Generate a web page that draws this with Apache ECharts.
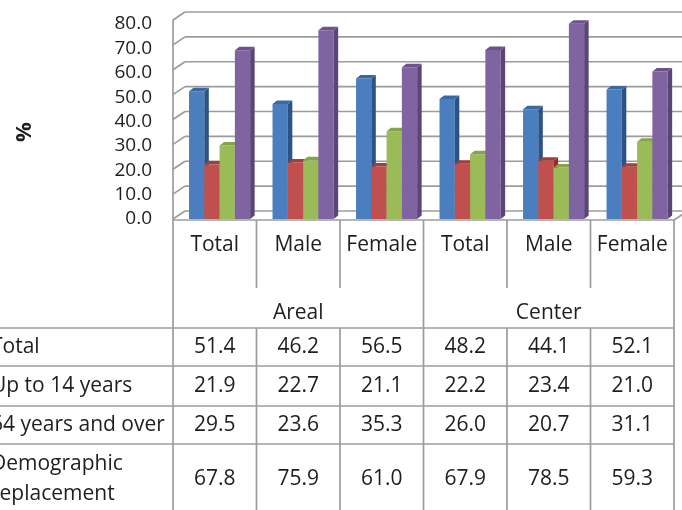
<!DOCTYPE html>
<html>
<head>
<meta charset="utf-8">
<script src="https://cdn.jsdelivr.net/npm/echarts@6/dist/echarts.min.js"></script>
<style>
  html, body { margin: 0; padding: 0; background: #fff; }
  #main { width: 682px; height: 510px; }
</style>
</head>
<body>
<div id="main"></div>
<script>
// data
const categories = ['Total', 'Male', 'Female', 'Total', 'Male', 'Female'];
const groups = ['Areal', 'Center'];
const seriesNames = ['Total', 'Up to 14 years', '64 years and over', 'Demographic\nreplacement'];
const totalVals = [51.4, 46.2, 56.5, 48.2, 44.1, 52.1];
const upTo14Vals = [21.9, 22.7, 21.1, 22.2, 23.4, 21.0];
const over64Vals = [29.5, 23.6, 35.3, 26.0, 20.7, 31.1];
const replacementVals = [67.8, 75.9, 61.0, 67.9, 78.5, 59.3];
const yTicks = [0, 10, 20, 30, 40, 50, 60, 70, 80];

const allVals = [totalVals, upTo14Vals, over64Vals, replacementVals];
// front / side / top colours
const colors = [
  ['#4a7ebf', '#2d5286', '#3a68a3'],
  ['#c0504d', '#8a2f2d', '#a23f3c'],
  ['#9bbb59', '#6f8a37', '#85a349'],
  ['#8064a2', '#5a4577', '#6c538c']
];

const FONT = '21px "Open Sans"';
const TXT = '#1e1e1e';
const LINE = '#9c9c9c';
const WALL_DX = 12, WALL_DY = -8;   // depth of the 3d box
const BAR_DX = 4.5, BAR_DY = -3.5;  // depth of a bar

const chart = echarts.init(document.getElementById('main'), null, { renderer: 'canvas' });

/**
 * walls, floor, gridlines
 */
function renderFrame(params, api) {
  const bw = api.size([1, 0])[0];
  const L = api.coord([0, 0])[0] - bw / 2;
  const R = api.coord([categories.length - 1, 0])[0] + bw / 2;
  const y0 = api.coord([0, 0])[1];
  const yTop = api.coord([0, yTicks[yTicks.length - 1]])[1];
  const st = { stroke: LINE, lineWidth: 1.7 };
  const kids = [];
  yTicks.forEach(v => {
    const y = api.coord([0, v])[1];
    kids.push({ type: 'line', shape: { x1: L + WALL_DX, y1: y + WALL_DY, x2: R + WALL_DX, y2: y + WALL_DY }, style: st });
    kids.push({ type: 'line', shape: { x1: L, y1: y, x2: L + WALL_DX, y2: y + WALL_DY }, style: st });
  });
  kids.push({ type: 'line', shape: { x1: L, y1: yTop, x2: L, y2: y0 + 1 }, style: st });
  kids.push({ type: 'line', shape: { x1: L, y1: y0 + 1, x2: R, y2: y0 + 1 }, style: st });
  kids.push({ type: 'line', shape: { x1: R, y1: y0 + 1, x2: R + WALL_DX, y2: y0 + 1 + WALL_DY }, style: st });
  return { type: 'group', children: kids };
}

/**
 * one 3d bar
 */
function makeBarRender(s) {
  return function (params, api) {
    const i = api.value(0);
    const v = api.value(1);
    const bw = api.size([1, 0])[0];
    const c = api.coord([i, v]);
    const yb = api.coord([i, 0])[1];
    const w = bw * 0.183;
    const x0 = c[0] - bw * 0.308 + s * w;
    const yt = c[1];
    const col = colors[s];
    return {
      type: 'group',
      children: [
        { type: 'rect', shape: { x: x0, y: yt, width: w, height: yb - yt }, style: { fill: col[0] } },
        { type: 'polygon', shape: { points: [[x0 + w, yt], [x0 + w + BAR_DX, yt + BAR_DY], [x0 + w + BAR_DX, yb + BAR_DY], [x0 + w, yb]] }, style: { fill: col[1] } },
        { type: 'polygon', shape: { points: [[x0, yt], [x0 + BAR_DX, yt + BAR_DY], [x0 + w + BAR_DX, yt + BAR_DY], [x0 + w, yt]] }, style: { fill: col[2] } }
      ]
    };
  };
}

/**
 * data table under the chart, one column per category
 */
function renderTable(params, api) {
  const i = api.value(0);
  const bw = api.size([1, 0])[0];
  const cx = api.coord([i, 0])[0];
  const y0 = api.coord([i, 0])[1] + 1;
  const left = cx - bw / 2;
  const right = cx + bw / 2;
  const headBottom = y0 + 68;   // end of short separators
  const groupBottom = y0 + 108; // line under group names
  const rowLines = [groupBottom, groupBottom + 38, groupBottom + 78, groupBottom + 116];
  const rowMid = [groupBottom + 19, groupBottom + 58, groupBottom + 97, groupBottom + 151];
  const bottom = 520;
  const st = { stroke: LINE, lineWidth: 1.7 };
  const kids = [];

  // vertical lines
  if (i % 3 === 0) {
    kids.push({ type: 'line', shape: { x1: left, y1: y0, x2: left, y2: bottom }, style: st });
  } else {
    kids.push({ type: 'line', shape: { x1: left, y1: y0, x2: left, y2: headBottom }, style: st });
    kids.push({ type: 'line', shape: { x1: left, y1: groupBottom, x2: left, y2: bottom }, style: st });
  }
  if (i === categories.length - 1) {
    kids.push({ type: 'line', shape: { x1: right, y1: y0, x2: right, y2: bottom }, style: st });
  }

  // category name
  kids.push({ type: 'text', style: { text: categories[i], x: cx, y: y0 + 25, font: FONT, fill: TXT, textAlign: 'center', textVerticalAlign: 'middle' } });

  // group name over the middle column
  if (i % 3 === 1) {
    kids.push({ type: 'text', style: { text: groups[Math.floor(i / 3)], x: cx, y: groupBottom - 15, font: FONT, fill: TXT, textAlign: 'center', textVerticalAlign: 'middle' } });
  }

  // values
  allVals.forEach((arr, r) => {
    kids.push({ type: 'text', style: { text: arr[i].toFixed(1), x: cx, y: rowMid[r], font: FONT, fill: TXT, textAlign: 'center', textVerticalAlign: 'middle' } });
  });

  // row lines + row names only once
  if (i === 0) {
    const R = left + bw * categories.length;
    rowLines.forEach(y => {
      kids.push({ type: 'line', shape: { x1: 0, y1: y, x2: R, y2: y }, style: st });
    });
    seriesNames.forEach((n, r) => {
      kids.push({ type: 'text', style: { text: n, x: -9, y: rowMid[r], font: FONT, fill: TXT, lineHeight: 30, textAlign: 'left', textVerticalAlign: 'middle' } });
    });
  }
  return { type: 'group', children: kids };
}

const series = [
  {
    type: 'custom', name: 'frame', xAxisIndex: 0, yAxisIndex: 0, clip: false, silent: true,
    data: [[0, 0]], renderItem: renderFrame, z: 1
  }
];
allVals.forEach((arr, s) => {
  series.push({
    type: 'custom', name: seriesNames[s], xAxisIndex: 0, yAxisIndex: 0, clip: false,
    encode: { x: 0, y: 1 },
    data: arr.map((v, i) => [i, v]),
    renderItem: makeBarRender(s), z: 2
  });
});
series.push({
  type: 'custom', name: 'table', xAxisIndex: 0, yAxisIndex: 0, clip: false, silent: true,
  data: categories.map((c, i) => [i, 0]),
  renderItem: renderTable, z: 3
});

let option = {
  animation: false,
  grid: [
    // bars
    { left: 173, right: 8, top: 20, bottom: 291 },
    // y labels only
    { left: 173, right: 8, top: 24, bottom: 291 }
  ],
  xAxis: [
    { type: 'category', gridIndex: 0, data: categories, show: false },
    { type: 'category', gridIndex: 1, data: categories, show: false }
  ],
  yAxis: [
    { type: 'value', gridIndex: 0, min: 0, max: 80, interval: 10, show: false },
    {
      type: 'value', gridIndex: 1, min: 0, max: 80, interval: 10,
      axisLine: { show: false }, axisTick: { show: false }, splitLine: { show: false },
      axisLabel: {
        margin: 21, color: TXT, fontSize: 19, fontFamily: 'Open Sans',
        formatter: v => v.toFixed(1)
      }
    }
  ],
  graphic: [
    {
      type: 'text', x: 25, y: 132, rotation: Math.PI / 2,
      style: { text: '%', font: 'bold 22px "Open Sans"', fill: TXT, textAlign: 'center', textVerticalAlign: 'middle' }
    }
  ],
  series: series
};

chart.setOption(option);
</script>
</body>
</html>
